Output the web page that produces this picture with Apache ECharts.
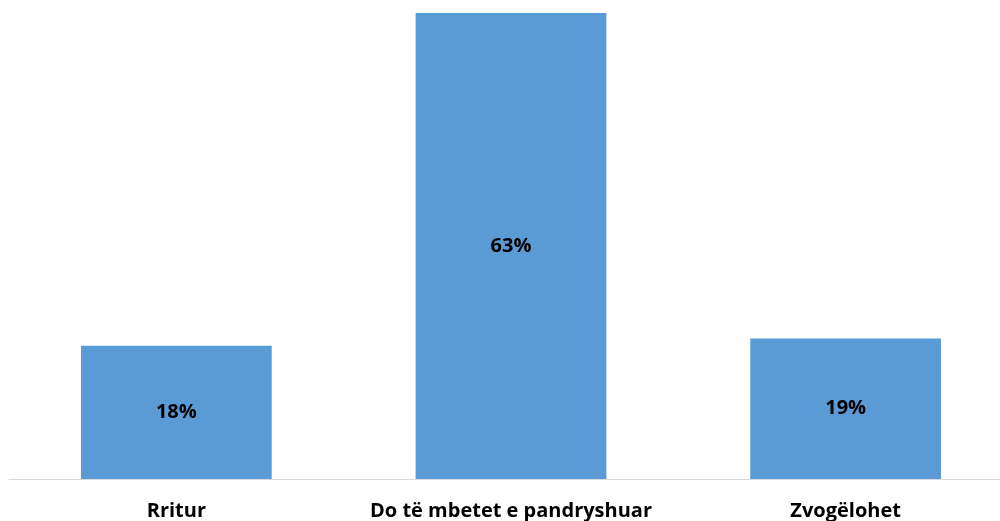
<!DOCTYPE html>
<html><head><meta charset="utf-8">
<script src="https://cdn.jsdelivr.net/npm/echarts@6/dist/echarts.min.js"></script>
<style>html,body{margin:0;padding:0;background:#fff;overflow:hidden;width:1000px;height:521px}#c{width:1013px;height:521px}</style>
</head><body><div id="c"></div>
<script>
const categories = ['Rritur', 'Do të mbetet e pandryshuar', 'Zvogëlohet'];
const values = [18, 63, 19];
const chart = echarts.init(document.getElementById('c'));
chart.setOption({
  animation: false,
  grid: {left: 9, right: 0, top: 13, bottom: 42, containLabel: false},
  xAxis: {
    type: 'category', data: categories,
    axisLine: {lineStyle: {color: '#D9D9D9', width: 1}},
    axisTick: {show: false},
    axisLabel: {interval: 0, color: '#000', fontFamily: 'Open Sans', fontWeight: 'bold', fontSize: 20, margin: 22}
  },
  yAxis: {type: 'value', min: 0, max: 63, show: false, splitLine: {show: false}},
  series: [{
    type: 'bar', data: values, barWidth: '57%',
    itemStyle: {color: '#5B9BD5'},
    label: {show: true, position: 'inside', formatter: '{c}%', color: '#000', fontFamily: 'Open Sans', fontWeight: 'bold', fontSize: 20}
  }]
});
</script></body></html>
